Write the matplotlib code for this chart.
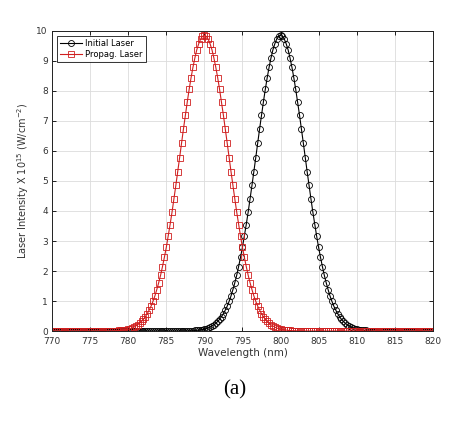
import numpy as np
import matplotlib
matplotlib.use("Agg")
import matplotlib.pyplot as plt

# -- pulse profile: intensity (x10^15) vs offset from the peak, 0.25 nm steps -- #
half_profile = [9.85, 9.82, 9.73, 9.57, 9.37, 9.10, 8.79, 8.44, 8.05, 7.63,
                7.19, 6.73, 6.26, 5.78, 5.31, 4.85, 4.40, 3.96, 3.55, 3.16,
                2.79, 2.46, 2.15, 1.86, 1.61, 1.38, 1.17, 0.99, 0.83, 0.70,
                0.58, 0.48, 0.39, 0.32, 0.26, 0.21, 0.17, 0.13, 0.10, 0.08,
                0.06, 0.05, 0.04, 0.03, 0.02, 0.02, 0.01, 0.01, 0.01]
step_nm = 0.25
initial_peak = 800.0
propag_peak = 790.0
wl_min, wl_max = 770.0, 820.0

x_ticks = [770, 775, 780, 785, 790, 795, 800, 805, 810, 815, 820]
y_ticks = [0, 1, 2, 3, 4, 5, 6, 7, 8, 9, 10]


def build_series(peak):
    # mirror the half profile, then pad with zero samples out to the plot edges
    profile = half_profile[::-1] + half_profile[1:]
    n_half = len(half_profile) - 1
    wl = [peak + (i - n_half) * step_nm for i in range(len(profile))]
    left = []
    w = wl[0] - step_nm
    while w >= wl_min - 1e-9:
        left.insert(0, w)
        w -= step_nm
    right = []
    w = wl[-1] + step_nm
    while w <= wl_max + 1e-9:
        right.append(w)
        w += step_nm
    x = left + wl + right
    y = [0.0] * len(left) + profile + [0.0] * len(right)
    return np.array(x), np.array(y)


x_init, y_init = build_series(initial_peak)
x_prop, y_prop = build_series(propag_peak)

fig = plt.figure(figsize=(4.57, 4.22), dpi=100)
ax = fig.add_axes([0.114, 0.2156, 0.833, 0.711])

red = '#d01f1f'
ax.plot(x_init, y_init, color='black', lw=0.8, marker='o', ms=4.3,
        mfc='none', mec='black', mew=0.6, label='Initial Laser')
ax.plot(x_prop, y_prop, color=red, lw=0.8, marker='s', ms=3.8,
        mfc='none', mec=red, mew=0.6, label='Propag. Laser')

ax.set_xlim(wl_min, wl_max)
ax.set_ylim(0, 10)
ax.set_xticks(x_ticks)
ax.set_yticks(y_ticks)
ax.grid(True, color='#dcdcdc', lw=0.6)
ax.set_axisbelow(True)
ax.tick_params(direction='in', top=True, right=True, labelsize=6.5,
               labelcolor='#333333', length=3, width=0.6)
ax.tick_params(axis='x', pad=4)
ax.tick_params(axis='y', pad=3)
for s in ax.spines.values():
    s.set_linewidth(0.7)
    s.set_color('#222222')

ax.set_xlabel('Wavelength (nm)', fontsize=7.5, color='#333333', labelpad=2)
ax.set_ylabel(r'Laser Intensity X 10$^{15}$ (W/cm$^{-2}$)', fontsize=7,
              color='#333333', labelpad=4)

leg = ax.legend(loc='upper left', fontsize=6, frameon=True, fancybox=False,
                edgecolor='black', handlelength=2.6, borderpad=0.4,
                labelspacing=0.2, handletextpad=0.4, borderaxespad=0.6)
leg.get_frame().set_linewidth(0.7)

fig.text(0.514, 0.076, '(a)', ha='center', va='center', fontsize=15,
         family='Liberation Serif')

fig.savefig('out.png', dpi=100)
